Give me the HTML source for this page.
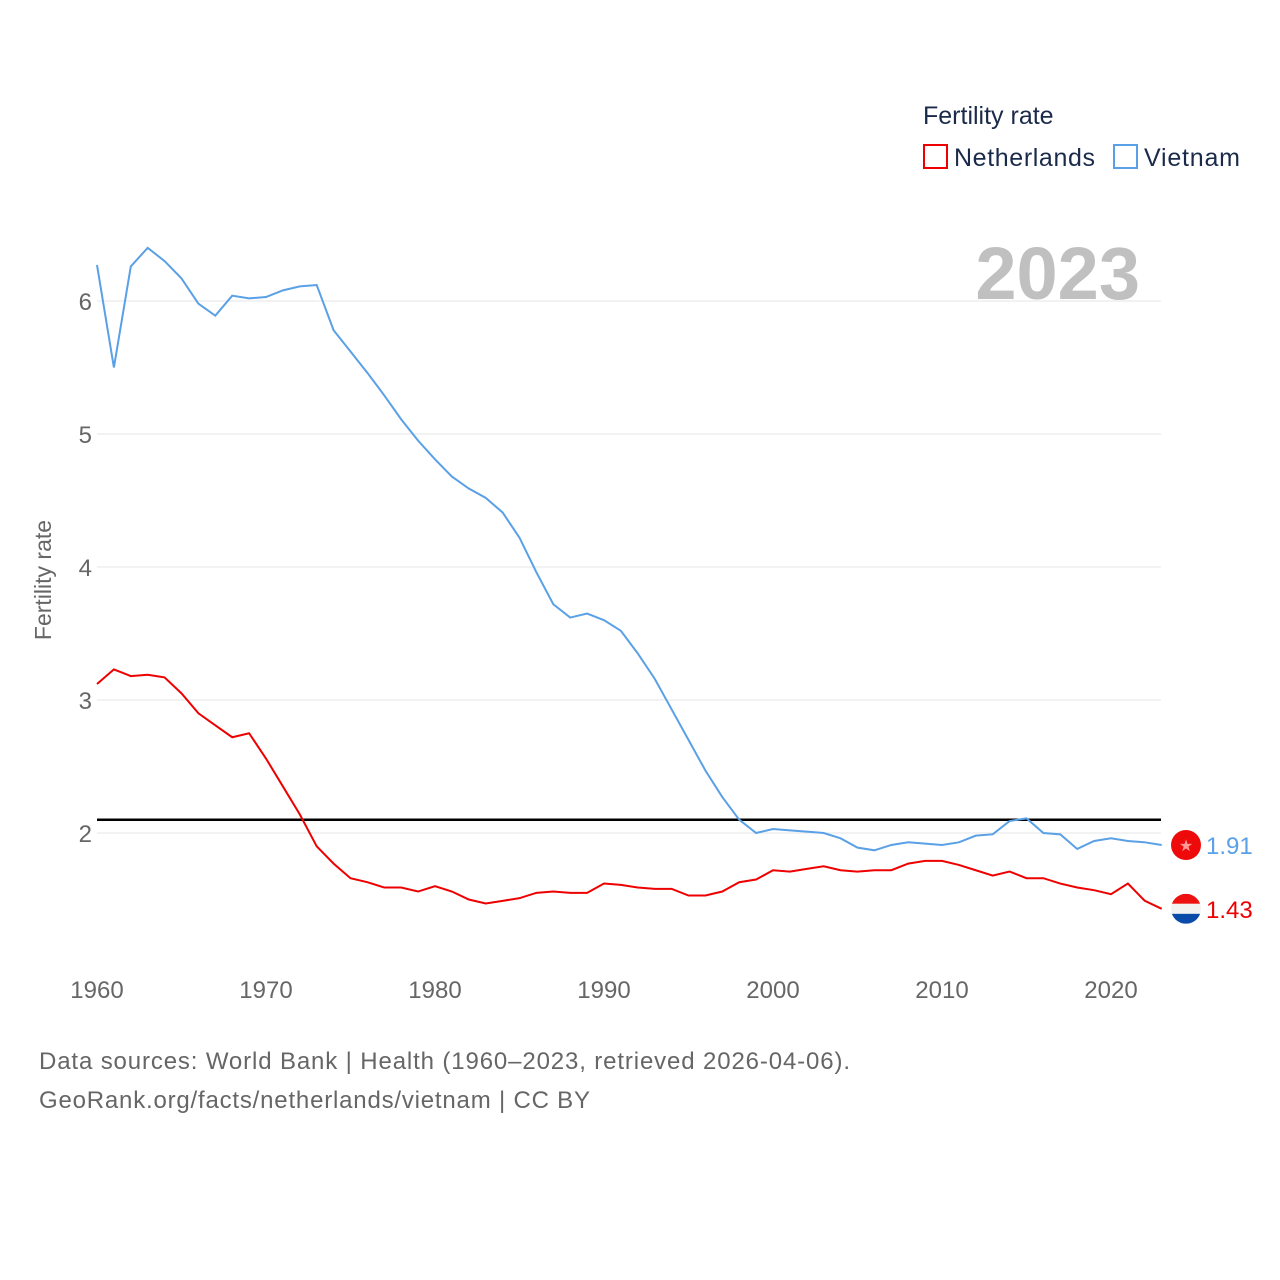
<!DOCTYPE html>
<html><head><meta charset="utf-8"><style>
body{margin:0;background:#fff;font-family:"Liberation Sans",sans-serif;}
</style></head><body>
<svg id="c" width="1280" height="1280" xmlns="http://www.w3.org/2000/svg" style="display:block;font-family:'Liberation Sans',sans-serif">
<text x="923" y="124" font-size="25" fill="#1a2a4a">Fertility rate</text>
<g><rect x="924" y="145" width="23" height="23" fill="none" stroke="#ee0000" stroke-width="2"/><text x="954" y="166" font-size="25" fill="#1a2a4a" textLength="141">Netherlands</text></g>
<g><rect x="1114" y="145" width="23" height="23" fill="none" stroke="#5aa0e6" stroke-width="2"/><text x="1144" y="166" font-size="25" fill="#1a2a4a" textLength="96">Vietnam</text></g>
<text x="1140" y="299" font-size="74" font-weight="bold" fill="#c0c0c0" text-anchor="end">2023</text>
<text transform="translate(51,580) rotate(-90)" font-size="23" fill="#666" text-anchor="middle">Fertility rate</text>
<g id="grid"></g><g id="lines"></g>
<text x="39" y="1069" font-size="24" fill="#666" textLength="811">Data sources: World Bank | Health (1960–2023, retrieved 2026-04-06).</text>
<text x="39" y="1108" font-size="24" fill="#666" textLength="551">GeoRank.org/facts/netherlands/vietnam | CC BY</text>
</svg>
<script>
const years=[];for(let y=1960;y<=2023;y++)years.push(y);
const vietnam=[6.27,5.50,6.26,6.40,6.30,6.17,5.98,5.89,6.04,6.02,6.03,6.08,6.11,6.12,5.78,5.62,5.46,5.29,5.11,4.95,4.81,4.68,4.59,4.52,4.41,4.22,3.96,3.72,3.62,3.65,3.60,3.52,3.35,3.16,2.93,2.70,2.47,2.27,2.10,2.00,2.03,2.02,2.01,2.00,1.96,1.89,1.87,1.91,1.93,1.92,1.91,1.93,1.98,1.99,2.09,2.11,2.00,1.99,1.88,1.94,1.96,1.94,1.93,1.91];
const netherlands=[3.12,3.23,3.18,3.19,3.17,3.05,2.90,2.81,2.72,2.75,2.56,2.35,2.14,1.90,1.77,1.66,1.63,1.59,1.59,1.56,1.60,1.56,1.50,1.47,1.49,1.51,1.55,1.56,1.55,1.55,1.62,1.61,1.59,1.58,1.58,1.53,1.53,1.56,1.63,1.65,1.72,1.71,1.73,1.75,1.72,1.71,1.72,1.72,1.77,1.79,1.79,1.76,1.72,1.68,1.71,1.66,1.66,1.62,1.59,1.57,1.54,1.62,1.49,1.43];
const yTicks=[2,3,4,5,6];
const xTicks=[1960,1970,1980,1990,2000,2010,2020];
const refValue=2.1;
const X=y=>97+(y-1960)*16.9, Y=v=>833-(v-2)*133;
const NS="http://www.w3.org/2000/svg";
function mk(t,a,p){const e=document.createElementNS(NS,t);for(const k in a)e.setAttribute(k,a[k]);p.appendChild(e);return e;}
const g=document.getElementById('grid'), L=document.getElementById('lines');
yTicks.forEach(v=>{
 const l=mk('line',{x1:97,x2:1161,y1:Y(v),y2:Y(v),stroke:'#e4e4e4','stroke-width':1},g);
 
 
 const t=mk('text',{x:92,y:Y(v)+9,'font-size':24,fill:'#666','text-anchor':'end'},g);t.textContent=v;
 
 
});
xTicks.forEach(v=>{
 const t=mk('text',{x:X(v),y:998,'font-size':24,fill:'#666','text-anchor':'middle'},g);t.textContent=v;
 
 
});
const r=mk('line',{x1:97,x2:1161,y1:Y(refValue),y2:Y(refValue),stroke:'#000','stroke-width':2.5},L);


function series(d,col,name){
 const p=mk('path',{d:d.map((v,i)=>(i?'L':'M')+X(years[i])+','+Y(v)).join(''),fill:'none',stroke:col,'stroke-width':2},L);
 
 
}
series(vietnam,'#5aa0e6','vietnam');
series(netherlands,'#ee0000','netherlands');
const lv=vietnam[vietnam.length-1], ln=netherlands[netherlands.length-1];
const cx=1186;
const fv=mk('g',{},L);


mk('circle',{cx:cx,cy:Y(lv),r:15,fill:'#ee0a0a'},fv);
const st=mk('text',{x:cx,y:Y(lv)+6,'font-size':16,fill:'#ff9a9a','text-anchor':'middle'},fv);st.textContent='★';
const fn=mk('g',{},L);


const yn=Y(ln);
mk('clipPath',{id:'nlc'},fn);
mk('circle',{cx:cx,cy:yn,r:15},fn.querySelector('clipPath'));
const gg=mk('g',{'clip-path':'url(#nlc)'},fn);
mk('rect',{x:cx-15,y:yn-15,width:30,height:10,fill:'#ee1111'},gg);
mk('rect',{x:cx-15,y:yn-5,width:30,height:10,fill:'#f2f2f2'},gg);
mk('rect',{x:cx-15,y:yn+5,width:30,height:10,fill:'#0a4aa8'},gg);
const tv=mk('text',{x:1206,y:Y(lv)+9,'font-size':24,fill:'#5aa0e6'},L);tv.textContent=lv.toFixed(2);


const tn=mk('text',{x:1206,y:yn+9,'font-size':24,fill:'#ee0000'},L);tn.textContent=ln.toFixed(2);


</script>
</body></html>
